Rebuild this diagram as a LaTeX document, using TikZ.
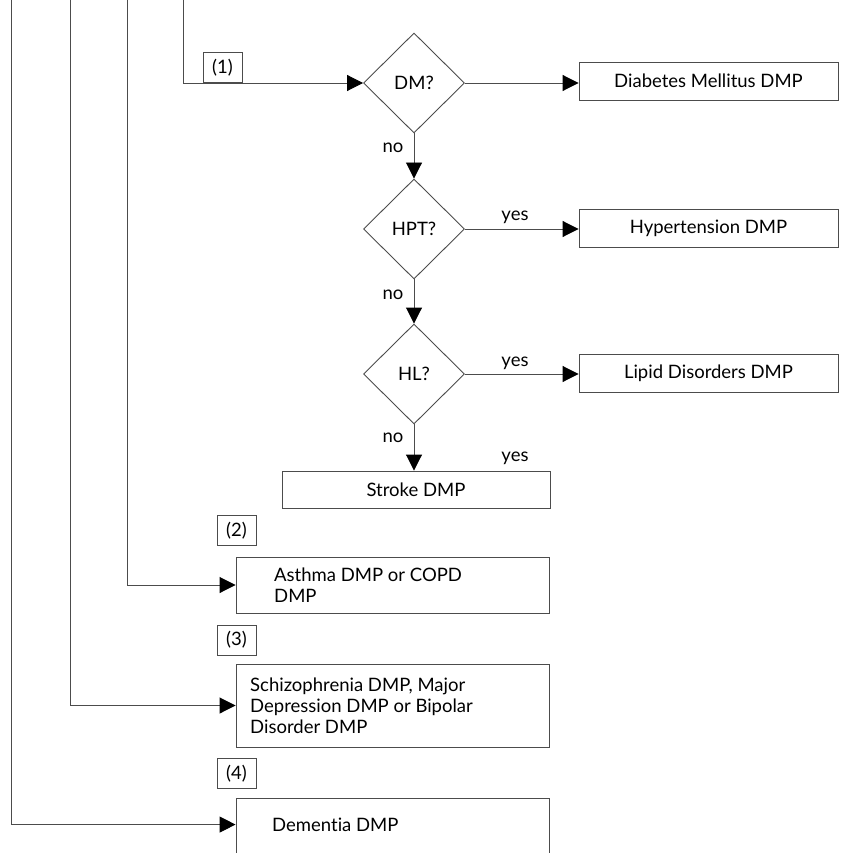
\documentclass[tikz,border=0pt]{standalone}
\usepackage{fontspec}
\setmainfont[Ligatures=NoCommon]{Lato}
\usetikzlibrary{shapes.geometric,arrows.meta}
\begin{document}
\begin{tikzpicture}[x=1pt,y=-1pt,
  every node/.style={font=\fontsize{18.5}{21}\selectfont, text=black},
  ln/.style={draw=black!70, line width=0.9pt},
  arr/.style={ln, -{Triangle[length=16pt,width=16pt,color=black]}},
  box/.style={ln, rectangle, inner sep=0pt},
  dec/.style={ln, diamond, minimum width=101pt, minimum height=100pt, inner sep=0pt},
  tag/.style={ln, rectangle, minimum width=39pt, minimum height=30pt, inner sep=0pt},
  lab/.style={inner sep=0pt}
]
\useasboundingbox (0,0) rectangle (842,853);
\clip (0,0) rectangle (842,853);
% decisions
\node[dec] (dm) at (414,83) {DM?};
\node[dec] (hpt) at (414,229) {HPT?};
\node[dec] (hl) at (414,374) {HL?};
% right boxes
\node[box, minimum width=259pt, minimum height=38pt] (diab) at (708.5,81) {Diabetes Mellitus DMP};
\node[box, minimum width=259pt, minimum height=38pt] (hyp) at (708.5,228) {Hypertension DMP};
\node[box, minimum width=259pt, minimum height=38pt] (lip) at (708.5,373.5) {Lipid Disorders DMP};
\node[box, minimum width=268pt, minimum height=37pt] (stroke) at (416,489.5) {Stroke DMP};
% lower boxes
\node[box, minimum width=313pt, minimum height=56pt] (asthma) at (392.5,585) {};
\node[lab, anchor=west, align=left] (asthmat) at (274,585) {Asthma DMP or COPD\\DMP};
\node[box, minimum width=313pt, minimum height=83pt] (schizo) at (392.5,705.5) {};
\node[lab, anchor=west, align=left] (schizot) at (250,706) {Schizophrenia DMP, Major\\Depression DMP or Bipolar\\Disorder DMP};
\node[box, minimum width=313pt, minimum height=80pt] (dem) at (392.5,838) {};
\node[lab, anchor=west] (demt) at (272,825) {Dementia DMP};
% tags
\node[tag] (t1) at (222.5,67.5) {(1)};
\node[tag] (t2) at (236.5,530.5) {(2)};
\node[tag] (t3) at (236.5,640) {(3)};
\node[tag] (t4) at (236.5,773.5) {(4)};
% labels
\node[lab] (no1) at (393,148) {no};
\node[lab] (no2) at (393,295) {no};
\node[lab] (no3) at (393,438) {no};
\node[lab] (y1) at (515,217) {yes};
\node[lab] (y2) at (515,363) {yes};
\node[lab] (y3) at (515,458) {yes};
% line tops
\coordinate (c1) at (183,0);
\coordinate (c2) at (127,0);
\coordinate (c3) at (70,0);
\coordinate (c4) at (11,0);
% connectors
\draw[arr] (c1) |- (dm.west);
\draw[arr] (dm.east) -- (dm.east -| diab.west);
\draw[arr] (dm.south) -- (hpt.north);
\draw[arr] (hpt.east) -- (hpt.east -| hyp.west);
\draw[arr] (hpt.south) -- (hl.north);
\draw[arr] (hl.east) -- (hl.east -| lip.west);
\draw[arr] (hl.south) -- (hl.south |- stroke.north);
\draw[arr] (c2) |- (asthma.west);
\draw[arr] (c3) |- (schizo.west);
\draw[arr] (c4) |- ([yshift=-27pt]dem.north west);
\end{tikzpicture}
\end{document}
